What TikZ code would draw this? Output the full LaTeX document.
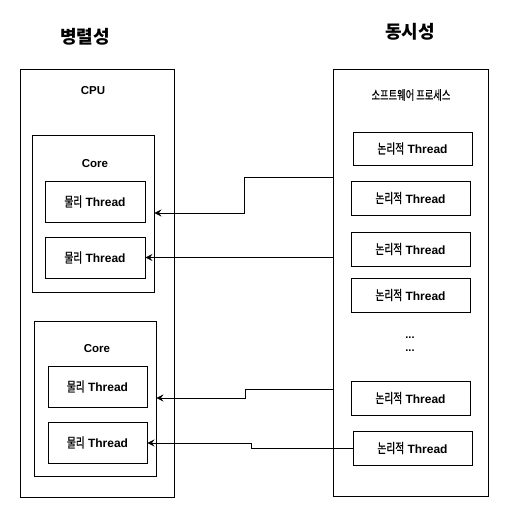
\documentclass[tikz,border=0pt]{standalone}
\usepackage{fontspec}
\setmainfont{Liberation Sans}
\newfontfamily\kr[Scale=1.12,FakeStretch=0.72,FakeBold=0.9]{Noto Sans CJK KR}
\newfontfamily\krp[Scale=1.12,FakeStretch=0.72,FakeBold=0.3]{Noto Sans CJK KR}
\newfontfamily\krbig{Noto Sans CJK KR}
\usetikzlibrary{arrows.meta}
\begin{document}
\begin{tikzpicture}[x=1pt,y=-1pt,
  box/.style={draw=black,line width=0.9pt,rectangle,inner sep=0pt},
  thr/.style={box,font=\fontsize{12}{14}\selectfont\bfseries},
  lbl/.style={inner sep=0pt,font=\fontsize{11.5}{13}\selectfont\bfseries},
  ttl/.style={inner sep=0pt,font=\fontsize{18}{20}\selectfont\krbig\bfseries},
  conn/.style={draw=black,line width=0.8pt,-{Stealth[length=7pt,width=7pt,inset=2.5pt]}}]
\newcommand\ko[1]{{\kr\mdseries #1}}
\useasboundingbox (0,0) rectangle (509,517);
% outer boxes
\node[box,minimum width=154pt,minimum height=428pt] (cpu) at (97,283) {};
\node[box,minimum width=155pt,minimum height=427pt] (proc) at (410.5,282.5) {};
% cores
\node[box,minimum width=122pt,minimum height=157pt] (core1) at (93,213.5) {};
\node[box,minimum width=122pt,minimum height=155pt] (core2) at (95,398.5) {};
% titles and labels
\node[ttl] (t1) at (85,37) {병렬성};
\node[ttl] (t2) at (410,32) {동시성};
\node[lbl] (cpulbl) at (93,91) {CPU};
\node[inner sep=0pt,font=\fontsize{11.5}{14}\selectfont\krp] (proclbl) at (411,95) {소프트웨어 프로세스};
\node[lbl] (c1lbl) at (95,164) {Core};
\node[lbl] (c2lbl) at (97,349) {Core};
% physical threads
\node[thr,minimum width=100pt,minimum height=41pt] (p1) at (95,201.5) {\ko{물리} Thread};
\node[thr,minimum width=100pt,minimum height=41pt] (p2) at (95,257.5) {\ko{물리} Thread};
\node[thr,minimum width=99pt,minimum height=41pt] (p3) at (97.5,386.5) {\ko{물리} Thread};
\node[thr,minimum width=99pt,minimum height=41pt] (p4) at (97.5,442.5) {\ko{물리} Thread};
% logical threads
\node[thr,minimum width=119pt,minimum height=33pt] (l1) at (412.5,148.5) {\ko{논리적} Thread};
\node[thr,minimum width=119pt,minimum height=34pt] (l2) at (410.5,198) {\ko{논리적} Thread};
\node[thr,minimum width=119pt,minimum height=34pt] (l3) at (410.5,249) {\ko{논리적} Thread};
\node[thr,minimum width=119pt,minimum height=34pt] (l4) at (410.5,295) {\ko{논리적} Thread};
\node[thr,minimum width=119pt,minimum height=34pt] (l5) at (410.5,398) {\ko{논리적} Thread};
\node[thr,minimum width=119pt,minimum height=34pt] (l6) at (412.5,448) {\ko{논리적} Thread};
\node[inner sep=0pt,font=\fontsize{11}{13}\selectfont\bfseries] (d1) at (410,338) {...};
\node[inner sep=0pt,font=\fontsize{11}{13}\selectfont\bfseries] (d2) at (410,351) {...};
% connectors
\draw[conn] (proc.west |- 0,177) -- (244,177) -- (244,213) -- (core1.east |- 0,213);
\draw[conn] (proc.west |- p2.east) -- (p2.east);
\draw[conn] (proc.west |- 0,389) -- (245,389) -- (245,398) -- (core2.east |- 0,398);
\draw[conn] (l6.west) -- (251,448) -- (251,443) -- (p4.east |- 0,443);
\end{tikzpicture}
\end{document}
